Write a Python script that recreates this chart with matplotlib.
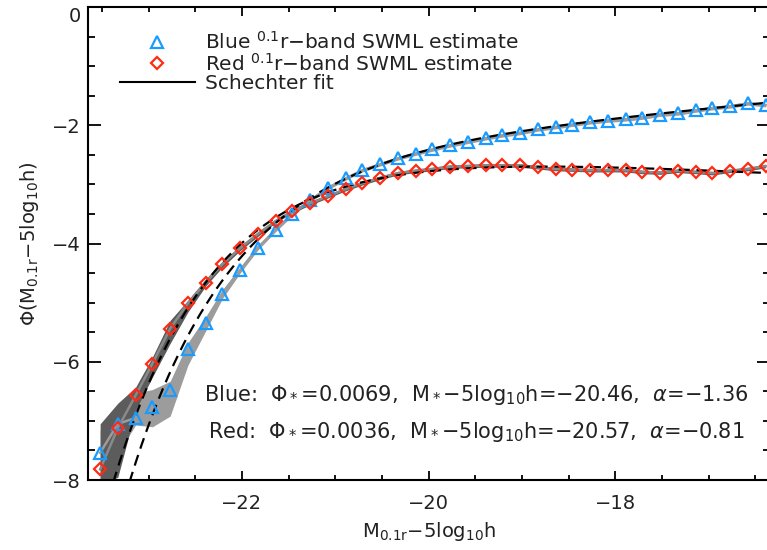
import numpy as np
import matplotlib
matplotlib.use("Agg")
import matplotlib.pyplot as plt
from matplotlib.lines import Line2D
from matplotlib.ticker import MultipleLocator

plt.rcParams["font.family"] = ["DejaVu Sans"]
plt.rcParams["mathtext.fontset"] = "dejavusans"

# absolute magnitude bins (M_0.1r - 5log10h)
mag = [-23.52, -23.33, -23.14, -22.96, -22.77, -22.58, -22.39, -22.21, -22.02, -21.83,
       -21.64, -21.46, -21.27, -21.08, -20.89, -20.71, -20.52, -20.33, -20.14, -19.96,
       -19.77, -19.58, -19.39, -19.21, -19.02, -18.83, -18.64, -18.46, -18.27, -18.08,
       -17.89, -17.71, -17.52, -17.33, -17.14, -16.96, -16.77, -16.58, -16.39]

# SWML estimates, log10 Phi
blue_phi = [-7.54, -7.05, -6.95, -6.77, -6.47, -5.78, -5.34, -4.85, -4.45, -4.07,
            -3.77, -3.50, -3.27, -3.06, -2.90, -2.76, -2.66, -2.56, -2.48, -2.41,
            -2.34, -2.28, -2.22, -2.17, -2.13, -2.07, -2.03, -1.99, -1.95, -1.92,
            -1.90, -1.87, -1.82, -1.80, -1.75, -1.71, -1.68, -1.63, -1.66]
red_phi = [-7.82, -7.12, -6.57, -6.03, -5.44, -5.01, -4.66, -4.35, -4.08, -3.84,
           -3.62, -3.45, -3.32, -3.20, -3.08, -2.98, -2.89, -2.81, -2.77, -2.74,
           -2.70, -2.69, -2.68, -2.68, -2.68, -2.71, -2.74, -2.75, -2.76, -2.76,
           -2.76, -2.79, -2.80, -2.77, -2.79, -2.81, -2.77, -2.74, -2.69]

# error band extents (above / below the estimate)
blue_err_up = [0.38, 0.32, 0.42, 0.30, 0.14, 0.10, 0.10, 0.07, 0.05, 0.04] + [0.03] * 29
blue_err_dn = [0.45, 0.50, 0.12, 0.33, 0.45, 0.28, 0.14, 0.08, 0.05, 0.04] + [0.03] * 29
red_err_up = [0.77, 0.42, 0.14, 0.11, 0.14, 0.05, 0.06, 0.05, 0.04, 0.04] + [0.03] * 29
red_err_dn = [0.30, 0.83, 0.25, 0.23, 0.25, 0.15, 0.06, 0.05, 0.04, 0.04] + [0.03] * 29

# Schechter fit parameters: blue, red
fit_names = ["Blue", "Red"]
fit_phi_star = [0.0069, 0.0036]
fit_m_star = [-20.46, -20.57]
fit_alpha = [-1.36, -0.81]

blue_col = "#1a9cff"
red_col = "#ff2a14"
text_col = "#222222"


def schechter(m, phi_star, m_star, alpha):
    x = 10 ** (-0.4 * (m - m_star))
    return np.log10(0.4 * np.log(10) * phi_star * x ** (alpha + 1) * np.exp(-x))


fig = plt.figure(figsize=(7.67, 5.5), dpi=100)
ax = fig.add_axes([88 / 767, 70 / 550, 682 / 767, 473 / 550])

mag_a = np.array(mag)
blue_a = np.array(blue_phi)
red_a = np.array(red_phi)

# error bands
ax.fill_between(mag_a, blue_a - np.array(blue_err_dn), blue_a + np.array(blue_err_up),
                color="#9c9c9c", lw=0, zorder=1)
ax.fill_between(mag_a, red_a - np.array(red_err_dn), red_a + np.array(red_err_up),
                color="#5c5c5c", lw=0, zorder=2)
ax.plot(mag_a, blue_a, color="#9c9c9c", lw=1.8, zorder=3)
ax.plot(mag_a, red_a, color="#8a8a8a", lw=1.8, zorder=3)

# Schechter fits
m_fit = np.linspace(-23.8, -16.2, 400)
for i in range(2):
    ax.plot(m_fit, schechter(m_fit, fit_phi_star[i], fit_m_star[i], fit_alpha[i]),
            color="black", lw=1.6, ls=(0, (5, 3)), zorder=4)

ax.plot(mag_a, blue_a, ls="none", marker="^", ms=8, mfc="none", mec=blue_col, mew=1.6, zorder=5)
ax.plot(mag_a, red_a, ls="none", marker="D", ms=6.5, mfc="none", mec=red_col, mew=1.6, zorder=5)

ax.set_xlim(-23.65, -16.343)
ax.set_ylim(-8, 0)
ax.xaxis.set_major_locator(MultipleLocator(2))
ax.xaxis.set_minor_locator(MultipleLocator(0.5))
ax.yaxis.set_major_locator(MultipleLocator(2))
ax.yaxis.set_minor_locator(MultipleLocator(0.5))
ax.tick_params(which="both", direction="in", top=True, right=True, labelsize=14,
               width=1.3, labelcolor=text_col)
ax.tick_params(axis="x", which="major", length=6.8, pad=10)
ax.tick_params(axis="x", which="minor", length=3.4)
ax.tick_params(axis="y", which="major", length=9.4, pad=5)
ax.tick_params(axis="y", which="minor", length=4.9)
for s in ax.spines.values():
    s.set_linewidth(1.5)

ax.set_xlabel(r"M$_{\mathrm{0.1r}}$$-$5log$_{10}$h", fontsize=14, labelpad=5, color=text_col)
ax.set_ylabel(r"$\Phi$(M$_{\mathrm{0.1r}}$$-$5log$_{10}$h)", fontsize=14, labelpad=8,
              color=text_col)

fig.canvas.draw()
for lab in ax.get_yticklabels():
    if lab.get_text() in ("0", "\u22120"):
        lab.set_va("top")

handles = [
    Line2D([], [], ls="none", marker="^", ms=8, mfc="none", mec=blue_col, mew=1.6),
    Line2D([], [], ls="none", marker="D", ms=6.5, mfc="none", mec=red_col, mew=1.6),
    Line2D([], [], color="black", lw=1.5),
]
labels = [
    r"Blue $^{0.1}$r$-$band SWML estimate",
    r"Red $^{0.1}$r$-$band SWML estimate",
    "Schechter fit",
]
leg = ax.legend(handles, labels, loc="upper left", bbox_to_anchor=(0.047, 0.95), frameon=False,
                fontsize=14.5, handlelength=3.7, handletextpad=0.5, labelspacing=0.0,
                borderpad=0, borderaxespad=0)
for t in leg.get_texts():
    t.set_color(text_col)

for i, yy in enumerate([0.18, 0.101]):
    txt = (fit_names[i] + r":  $\Phi_*$=" + f"{fit_phi_star[i]:.4f}" + r",  M$_*$$-$5log$_{10}$h="
           + f"{fit_m_star[i]:.2f}".replace("-", "\u2212") + r",  $\alpha$="
           + f"{fit_alpha[i]:.2f}".replace("-", "\u2212"))
    ax.text(0.57, yy, txt, transform=ax.transAxes, ha="center", va="center", fontsize=15,
            color=text_col)

fig.savefig("out.png", dpi=100)
